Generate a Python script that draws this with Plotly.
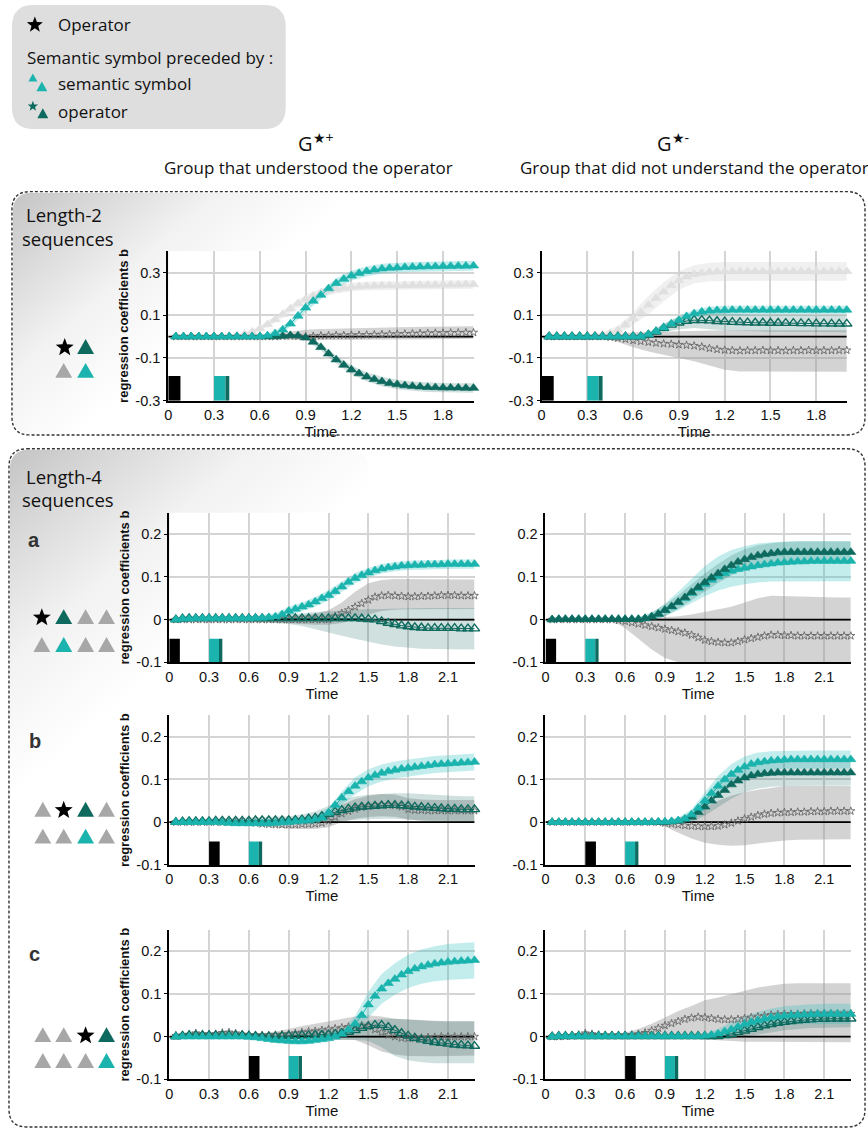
import math
import base64
import plotly.graph_objects as go

W, H = 868, 1138

# ---------------- data ----------------
T2 = [0.05, 0.1, 0.15, 0.2, 0.25, 0.3, 0.35, 0.4, 0.45, 0.5,
      0.55, 0.6, 0.65, 0.7, 0.75, 0.8, 0.85, 0.9, 0.95, 1.0,
      1.05, 1.1, 1.15, 1.2, 1.25, 1.3, 1.35, 1.4, 1.45, 1.5,
      1.55, 1.6, 1.65, 1.7, 1.75, 1.8, 1.85, 1.9, 1.95, 2.0]
T4 = T2 + [2.05, 2.1, 2.15, 2.2, 2.25, 2.3]
BT2 = [0.1, 0.2, 0.3, 0.4, 0.5, 0.6, 0.7, 0.8, 0.9, 1.0,
       1.1, 1.2, 1.3, 1.4, 1.5, 1.6, 1.7, 1.8, 1.9, 2.0]
BT4 = BT2 + [2.1, 2.2, 2.3]

TIME_TICKS = [0, 0.3, 0.6, 0.9, 1.2, 1.5, 1.8, 2.1]
TIME_LABELS = ["0", "0.3", "0.6", "0.9", "1.2", "1.5", "1.8", "2.1"]
L2_YTICKS = [-0.3, -0.1, 0.1, 0.3]
L2_YLABELS = ["-0.3", "-0.1", "0.1", "0.3"]
L4_YTICKS = [-0.1, 0, 0.1, 0.2]
L4_YLABELS = ["-0.1", "0", "0.1", "0.2"]
BAR_ONSETS = [0.0, 0.0, 0.0, 0.0, 0.3, 0.3, 0.6, 0.6]

# ---- Length-2, G*+ ----
L2L_GRAY = [0, 0, 0, 0, 0, 0, 0, 0.002, 0.005, 0.012,
            0.022, 0.037, 0.057, 0.08, 0.105, 0.13, 0.155, 0.175, 0.192, 0.205,
            0.215, 0.222, 0.228, 0.232, 0.235, 0.237, 0.238, 0.239, 0.24, 0.24,
            0.241, 0.241, 0.242, 0.242, 0.242, 0.243, 0.243, 0.243, 0.244, 0.244]
L2L_GRAY_LO = [-0.004, -0.004, -0.004, -0.004, 0.004, 0.025, 0.065, 0.112, 0.155, 0.185,
               0.202, 0.212, 0.217, 0.219, 0.22, 0.221, 0.222, 0.223, 0.223, 0.224]
L2L_GRAY_HI = [0.004, 0.004, 0.004, 0.006, 0.02, 0.05, 0.095, 0.148, 0.195, 0.225,
               0.242, 0.252, 0.257, 0.259, 0.26, 0.261, 0.262, 0.263, 0.263, 0.264]
L2L_STAR = [0, 0, 0, 0, 0, 0, 0, 0, 0, 0,
            0, 0, 0, 0.0, 0.002, 0.003, 0.002, 0.0, 0.002, 0.004,
            0.005, 0.006, 0.006, 0.007, 0.007, 0.008, 0.009, 0.01, 0.011, 0.012,
            0.013, 0.014, 0.015, 0.016, 0.017, 0.017, 0.018, 0.018, 0.019, 0.019]
L2L_STAR_LO = [-0.003, -0.003, -0.003, -0.003, -0.003, -0.005, -0.012, -0.015, -0.017, -0.018,
               -0.018, -0.017, -0.016, -0.015, -0.014, -0.013, -0.012, -0.011, -0.01, -0.01]
L2L_STAR_HI = [0.003, 0.003, 0.003, 0.003, 0.003, 0.005, 0.015, 0.025, 0.032, 0.036,
               0.038, 0.04, 0.041, 0.043, 0.044, 0.045, 0.046, 0.047, 0.048, 0.048]
L2L_DARK = [0, 0, 0, 0, 0, 0, 0, 0, 0, 0,
            0, 0, 0, 0, 0.003, 0.006, 0.004, -0.005, -0.025, -0.05,
            -0.08, -0.108, -0.133, -0.155, -0.173, -0.188, -0.2, -0.21, -0.218, -0.224,
            -0.229, -0.232, -0.235, -0.237, -0.238, -0.239, -0.24, -0.24, -0.241, -0.241]
L2L_DARK_LO = [-0.004, -0.004, -0.004, -0.004, -0.004, -0.004, -0.005, -0.003, -0.015, -0.065,
               -0.126, -0.175, -0.209, -0.232, -0.246, -0.254, -0.259, -0.261, -0.262, -0.263]
L2L_DARK_HI = [0.004, 0.004, 0.004, 0.004, 0.004, 0.004, 0.005, 0.015, 0.005, -0.035,
               -0.09, -0.135, -0.167, -0.188, -0.202, -0.21, -0.215, -0.217, -0.218, -0.219]
L2L_TEAL = [0, 0, 0, 0, 0, 0, 0, 0, 0, 0,
            0, 0.001, 0.005, 0.015, 0.032, 0.06, 0.097, 0.135, 0.167, 0.195,
            0.225, 0.25, 0.27, 0.285, 0.297, 0.306, 0.313, 0.318, 0.321, 0.323,
            0.325, 0.326, 0.327, 0.328, 0.329, 0.33, 0.33, 0.331, 0.331, 0.332]
L2L_TEAL_LO = [-0.005, -0.005, -0.005, -0.005, -0.005, -0.006, 0.003, 0.045, 0.115, 0.175,
               0.228, 0.262, 0.283, 0.295, 0.3, 0.303, 0.305, 0.307, 0.308, 0.309]
L2L_TEAL_HI = [0.005, 0.005, 0.005, 0.005, 0.005, 0.008, 0.027, 0.075, 0.155, 0.215,
               0.272, 0.308, 0.329, 0.341, 0.346, 0.349, 0.351, 0.353, 0.354, 0.355]

# ---- Length-2, G*- ----
L2R_GRAY = [0, 0, 0, 0, 0, 0, 0.003, 0.008, 0.017, 0.03,
            0.055, 0.085, 0.115, 0.148, 0.18, 0.21, 0.24, 0.263, 0.28, 0.292,
            0.298, 0.302, 0.304, 0.305, 0.306, 0.306, 0.306, 0.306, 0.306, 0.306,
            0.306, 0.306, 0.306, 0.306, 0.306, 0.306, 0.306, 0.306, 0.306, 0.306]
L2R_GRAY_LO = [-0.004, -0.004, -0.005, -0.004, 0.012, 0.055, 0.105, 0.165, 0.22, 0.25,
               0.258, 0.261, 0.262, 0.262, 0.262, 0.262, 0.262, 0.262, 0.262, 0.262]
L2R_GRAY_HI = [0.004, 0.004, 0.006, 0.02, 0.048, 0.115, 0.19, 0.255, 0.306, 0.334,
               0.346, 0.349, 0.35, 0.35, 0.35, 0.35, 0.35, 0.35, 0.35, 0.35]
L2R_STAR = [0, 0, 0, 0, 0, 0, 0, 0, -0.003, -0.007,
            -0.012, -0.018, -0.022, -0.026, -0.03, -0.033, -0.035, -0.038, -0.04, -0.043,
            -0.048, -0.055, -0.06, -0.063, -0.065, -0.066, -0.065, -0.065, -0.064, -0.065,
            -0.065, -0.066, -0.065, -0.065, -0.064, -0.065, -0.065, -0.065, -0.064, -0.064]
L2R_STAR_LO = [-0.003, -0.003, -0.003, -0.006, -0.025, -0.05, -0.07, -0.085, -0.1, -0.115,
               -0.135, -0.155, -0.163, -0.165, -0.165, -0.165, -0.165, -0.165, -0.165, -0.165]
L2R_STAR_HI = [0.003, 0.003, 0.003, 0.006, 0.012, 0.02, 0.022, 0.024, 0.025, 0.027,
               0.028, 0.03, 0.03, 0.03, 0.03, 0.03, 0.03, 0.03, 0.03, 0.03]
L2R_DARK = [0, 0, 0, 0, 0, 0, 0, 0, 0, 0,
            0, 0, 0, 0.008, 0.022, 0.04, 0.055, 0.065, 0.073, 0.077,
            0.077, 0.075, 0.072, 0.07, 0.068, 0.067, 0.066, 0.065, 0.065, 0.064,
            0.064, 0.063, 0.063, 0.062, 0.062, 0.061, 0.061, 0.06, 0.06, 0.06]
L2R_DARK_LO = [-0.004, -0.004, -0.004, -0.004, -0.004, -0.006, -0.005, 0.02, 0.035, 0.04,
               0.035, 0.03, 0.027, 0.025, 0.023, 0.022, 0.021, 0.02, 0.02, 0.02]
L2R_DARK_HI = [0.004, 0.004, 0.004, 0.004, 0.004, 0.006, 0.02, 0.06, 0.095, 0.11,
               0.112, 0.108, 0.105, 0.103, 0.102, 0.101, 0.1, 0.1, 0.1, 0.1]
L2R_TEAL = [0, 0, 0, 0, 0, 0, 0, 0, 0, 0,
            0, 0, 0, 0.01, 0.025, 0.042, 0.06, 0.077, 0.095, 0.108,
            0.116, 0.121, 0.123, 0.124, 0.125, 0.125, 0.125, 0.125, 0.125, 0.125,
            0.125, 0.125, 0.125, 0.125, 0.125, 0.125, 0.125, 0.125, 0.125, 0.125]
L2R_TEAL_LO = [-0.004, -0.004, -0.004, -0.004, -0.004, -0.005, 0.0, 0.027, 0.06, 0.09,
               0.102, 0.105, 0.105, 0.105, 0.105, 0.105, 0.105, 0.105, 0.105, 0.105]
L2R_TEAL_HI = [0.004, 0.004, 0.004, 0.004, 0.004, 0.005, 0.02, 0.057, 0.094, 0.126,
               0.14, 0.145, 0.145, 0.145, 0.145, 0.145, 0.145, 0.145, 0.145, 0.145]

# ---- Length-4 a, G*+ ----
A_L_STAR = [0, 0, 0, 0, 0, 0, 0, 0, 0, 0,
            0, 0, 0, 0, 0, 0, 0, 0, 0, 0,
            0, 0, 0, 0, 0.008, 0.015, 0.022, 0.03, 0.038, 0.046,
            0.053, 0.056, 0.057, 0.056, 0.055, 0.054, 0.054, 0.055, 0.055, 0.056,
            0.057, 0.057, 0.057, 0.056, 0.056, 0.056]
A_L_STAR_LO = [-0.002, -0.002, -0.002, -0.002, -0.002, -0.003, -0.004, -0.006, -0.008, -0.01,
               -0.012, -0.012, -0.008, 0.0, 0.012, 0.02, 0.023, 0.024, 0.025, 0.025,
               0.025, 0.025, 0.025]
A_L_STAR_HI = [0.002, 0.002, 0.002, 0.002, 0.002, 0.003, 0.004, 0.006, 0.008, 0.01,
               0.014, 0.022, 0.04, 0.065, 0.085, 0.093, 0.095, 0.095, 0.095, 0.095,
               0.095, 0.094, 0.094]
A_L_DARK = [0.0, 0.002, 0.003, 0.003, 0.003, 0.003, 0.003, 0.003, 0.003, 0.003,
            0.003, 0.003, 0.003, 0.003, 0.003, 0.003, 0.003, 0.003, 0.003, 0.003,
            0.003, 0.003, 0.003, 0.003, 0.003, 0.003, 0.003, 0.003, 0.002, 0.001,
            0.0, -0.004, -0.008, -0.011, -0.014, -0.016, -0.018, -0.019, -0.02, -0.02,
            -0.02, -0.02, -0.02, -0.021, -0.021, -0.021]
A_L_DARK_LO = [-0.004, -0.004, -0.004, -0.004, -0.004, -0.005, -0.006, -0.008, -0.01, -0.015,
               -0.022, -0.03, -0.038, -0.045, -0.052, -0.058, -0.063, -0.066, -0.068, -0.069,
               -0.07, -0.07, -0.07]
A_L_DARK_HI = [0.008, 0.008, 0.008, 0.008, 0.008, 0.008, 0.009, 0.01, 0.012, 0.015,
               0.018, 0.02, 0.022, 0.024, 0.025, 0.025, 0.026, 0.026, 0.027, 0.027,
               0.027, 0.027, 0.027]
A_L_TEAL = [0.0, 0.002, 0.002, 0.003, 0.003, 0.003, 0.003, 0.003, 0.003, 0.003,
            0.003, 0.003, 0.004, 0.004, 0.005, 0.007, 0.012, 0.02, 0.025, 0.03,
            0.035, 0.042, 0.05, 0.057, 0.066, 0.077, 0.088, 0.097, 0.104, 0.11,
            0.115, 0.119, 0.122, 0.124, 0.126, 0.127, 0.128, 0.128, 0.129, 0.129,
            0.129, 0.13, 0.13, 0.13, 0.13, 0.13]
A_L_TEAL_LO = [-0.004, -0.004, -0.004, -0.004, -0.004, -0.004, -0.004, -0.002, 0.01, 0.02,
               0.031, 0.045, 0.065, 0.085, 0.099, 0.108, 0.113, 0.116, 0.117, 0.118,
               0.119, 0.119, 0.119]
A_L_TEAL_HI = [0.008, 0.008, 0.008, 0.008, 0.008, 0.008, 0.01, 0.015, 0.03, 0.04,
               0.053, 0.069, 0.089, 0.109, 0.121, 0.13, 0.135, 0.138, 0.139, 0.14,
               0.141, 0.141, 0.141]

# ---- Length-4 a, G*- ----
A_R_STAR = [0, 0, 0, 0, 0, 0, 0, 0, 0, 0,
            -0.002, -0.004, -0.007, -0.01, -0.013, -0.016, -0.019, -0.022, -0.025, -0.028,
            -0.031, -0.036, -0.042, -0.048, -0.051, -0.053, -0.054, -0.054, -0.051, -0.047,
            -0.044, -0.041, -0.038, -0.036, -0.036, -0.037, -0.037, -0.038, -0.038, -0.038,
            -0.038, -0.038, -0.038, -0.038, -0.038, -0.038]
A_R_STAR_LO = [-0.002, -0.002, -0.002, -0.002, -0.002, -0.02, -0.045, -0.07, -0.09, -0.1,
               -0.115, -0.13, -0.13, -0.13, -0.13, -0.13, -0.13, -0.13, -0.13, -0.13,
               -0.13, -0.13, -0.13]
A_R_STAR_HI = [0.002, 0.002, 0.002, 0.002, 0.002, 0.0, 0.002, 0.004, 0.006, 0.008,
               0.012, 0.018, 0.025, 0.03, 0.04, 0.05, 0.056, 0.055, 0.054, 0.053,
               0.053, 0.052, 0.052]
A_R_TEAL = [0.0, 0.001, 0.001, 0.001, 0.001, 0.001, 0.001, 0.001, 0.001, 0.001,
            0.001, 0.001, 0.001, 0.001, 0.003, 0.007, 0.013, 0.022, 0.03, 0.04,
            0.05, 0.062, 0.073, 0.083, 0.093, 0.101, 0.108, 0.114, 0.118, 0.121,
            0.124, 0.127, 0.129, 0.131, 0.133, 0.134, 0.135, 0.136, 0.136, 0.137,
            0.137, 0.137, 0.137, 0.137, 0.137, 0.137]
A_R_TEAL_LO = [-0.003, -0.003, -0.003, -0.003, -0.003, -0.003, -0.004, -0.002, 0.008, 0.022,
               0.038, 0.055, 0.068, 0.077, 0.083, 0.087, 0.089, 0.09, 0.09, 0.09,
               0.09, 0.09, 0.09]
A_R_TEAL_HI = [0.003, 0.003, 0.003, 0.003, 0.003, 0.003, 0.005, 0.015, 0.038, 0.065,
               0.095, 0.125, 0.148, 0.163, 0.172, 0.178, 0.181, 0.183, 0.184, 0.184,
               0.184, 0.184, 0.184]
A_R_DARK = [0.0, 0.001, 0.001, 0.001, 0.001, 0.001, 0.001, 0.001, 0.001, 0.001,
            0.001, 0.001, 0.001, 0.001, 0.003, 0.007, 0.013, 0.022, 0.031, 0.041,
            0.052, 0.064, 0.076, 0.087, 0.098, 0.108, 0.118, 0.127, 0.135, 0.141,
            0.146, 0.15, 0.153, 0.155, 0.157, 0.158, 0.158, 0.158, 0.158, 0.158,
            0.158, 0.158, 0.158, 0.158, 0.158, 0.158]
A_R_DARK_LO = [-0.003, -0.003, -0.003, -0.003, -0.003, -0.003, -0.004, -0.003, 0.008, 0.025,
               0.045, 0.066, 0.086, 0.104, 0.117, 0.126, 0.131, 0.134, 0.135, 0.135,
               0.135, 0.135, 0.135]
A_R_DARK_HI = [0.003, 0.003, 0.003, 0.003, 0.003, 0.003, 0.005, 0.017, 0.036, 0.057,
               0.083, 0.108, 0.13, 0.15, 0.165, 0.174, 0.179, 0.182, 0.183, 0.183,
               0.183, 0.183, 0.183]

# ---- Length-4 b, G*+ ----
B_L_STAR = [0, 0, 0, 0, 0, 0, 0, 0, 0, 0,
            0, 0, -0.002, -0.004, -0.005, -0.006, -0.006, -0.006, -0.006, -0.005,
            -0.005, -0.004, -0.002, 0.003, 0.012, 0.02, 0.026, 0.031, 0.035, 0.037,
            0.039, 0.04, 0.04, 0.039, 0.036, 0.03, 0.028, 0.028, 0.027, 0.027,
            0.027, 0.027, 0.027, 0.027, 0.027, 0.027]
B_L_STAR_LO = [-0.002, -0.002, -0.002, -0.002, -0.002, -0.003, -0.008, -0.012, -0.015, -0.016,
               -0.016, -0.012, 0.0, 0.008, 0.012, 0.014, 0.013, 0.006, 0.004, 0.003,
               0.003, 0.003, 0.003]
B_L_STAR_HI = [0.002, 0.002, 0.002, 0.002, 0.002, 0.003, 0.002, 0.002, 0.004, 0.006,
               0.008, 0.018, 0.04, 0.054, 0.062, 0.066, 0.065, 0.056, 0.053, 0.052,
               0.052, 0.052, 0.052]
B_L_DARK = [0.0, 0.001, 0.002, 0.002, 0.002, 0.002, 0.003, 0.003, 0.003, 0.003,
            0.003, 0.003, 0.004, 0.004, 0.004, 0.004, 0.004, 0.004, 0.005, 0.006,
            0.008, 0.01, 0.014, 0.019, 0.024, 0.028, 0.031, 0.034, 0.036, 0.037,
            0.038, 0.039, 0.04, 0.04, 0.039, 0.038, 0.036, 0.035, 0.034, 0.033,
            0.032, 0.031, 0.031, 0.03, 0.03, 0.03]
B_L_DARK_LO = [-0.004, -0.003, -0.003, -0.003, -0.003, -0.004, -0.004, -0.005, -0.006, -0.006,
               -0.005, 0.0, 0.004, 0.006, 0.007, 0.008, 0.008, 0.006, 0.004, 0.002,
               0.0, -0.001, -0.002]
B_L_DARK_HI = [0.006, 0.007, 0.007, 0.008, 0.009, 0.01, 0.012, 0.013, 0.014, 0.018,
               0.025, 0.038, 0.052, 0.06, 0.064, 0.066, 0.068, 0.068, 0.066, 0.064,
               0.062, 0.061, 0.061]
B_L_TEAL = [0.0, 0.0, 0.0, 0.0, 0.0, 0.0, 0.0, -0.001, -0.002, -0.003,
            -0.003, -0.003, -0.003, -0.003, -0.003, -0.002, -0.001, 0.0, 0.002, 0.003,
            0.004, 0.006, 0.01, 0.022, 0.04, 0.057, 0.072, 0.085, 0.095, 0.104,
            0.11, 0.115, 0.119, 0.122, 0.125, 0.127, 0.129, 0.131, 0.133, 0.135,
            0.136, 0.137, 0.138, 0.139, 0.14, 0.141]
B_L_TEAL_LO = [-0.004, -0.004, -0.004, -0.005, -0.007, -0.007, -0.008, -0.008, -0.007, -0.006,
               -0.004, 0.01, 0.042, 0.065, 0.084, 0.095, 0.102, 0.107, 0.111, 0.115,
               0.117, 0.119, 0.121]
B_L_TEAL_HI = [0.004, 0.004, 0.004, 0.003, 0.001, 0.001, 0.002, 0.004, 0.007, 0.012,
               0.016, 0.034, 0.072, 0.105, 0.124, 0.135, 0.142, 0.147, 0.151, 0.155,
               0.157, 0.159, 0.161]

# ---- Length-4 b, G*- ----
B_R_STAR = [0, 0, 0, 0, 0, 0, 0, 0, 0, 0,
            0, 0, 0, 0, 0, 0, 0, -0.002, -0.004, -0.006,
            -0.008, -0.009, -0.01, -0.01, -0.01, -0.009, -0.006, -0.002, 0.003, 0.008,
            0.012, 0.016, 0.019, 0.021, 0.022, 0.023, 0.023, 0.024, 0.024, 0.025,
            0.025, 0.025, 0.026, 0.026, 0.026, 0.026]
B_R_STAR_LO = [-0.002, -0.002, -0.002, -0.002, -0.002, -0.002, -0.002, -0.002, -0.01, -0.025,
               -0.038, -0.048, -0.053, -0.055, -0.054, -0.05, -0.046, -0.043, -0.041, -0.04,
               -0.04, -0.04, -0.04]
B_R_STAR_HI = [0.002, 0.002, 0.002, 0.002, 0.002, 0.002, 0.002, 0.002, 0.004, 0.01,
               0.02, 0.035, 0.05, 0.062, 0.07, 0.076, 0.081, 0.085, 0.085, 0.085,
               0.085, 0.085, 0.085]
B_R_DARK = [0, 0, 0, 0, 0, 0, 0, 0, 0, 0,
            0, 0, 0, 0, 0, 0, 0, 0, 0.001, 0.003,
            0.006, 0.012, 0.023, 0.036, 0.05, 0.063, 0.075, 0.088, 0.097, 0.104,
            0.109, 0.112, 0.114, 0.115, 0.116, 0.116, 0.116, 0.116, 0.116, 0.116,
            0.116, 0.116, 0.116, 0.116, 0.116, 0.116]
B_R_DARK_LO = [-0.003, -0.003, -0.003, -0.003, -0.003, -0.003, -0.003, -0.003, -0.003, -0.004,
               0.0, 0.015, 0.035, 0.055, 0.07, 0.079, 0.083, 0.085, 0.086, 0.086,
               0.086, 0.086, 0.086]
B_R_DARK_HI = [0.003, 0.003, 0.003, 0.003, 0.003, 0.003, 0.003, 0.003, 0.003, 0.01,
               0.024, 0.057, 0.091, 0.115, 0.132, 0.141, 0.145, 0.146, 0.146, 0.146,
               0.146, 0.146, 0.146]
B_R_TEAL = [0, 0, 0, 0, 0, 0, 0, 0, 0, 0,
            0, 0, 0, 0, 0, 0, 0.001, 0.001, 0.002, 0.004,
            0.008, 0.018, 0.033, 0.05, 0.068, 0.085, 0.1, 0.112, 0.122, 0.13,
            0.136, 0.14, 0.142, 0.144, 0.145, 0.146, 0.147, 0.147, 0.147, 0.147,
            0.147, 0.147, 0.147, 0.147, 0.147, 0.147]
B_R_TEAL_LO = [-0.003, -0.003, -0.003, -0.003, -0.003, -0.003, -0.003, -0.003, -0.003, -0.002,
               0.006, 0.03, 0.062, 0.088, 0.106, 0.117, 0.122, 0.125, 0.126, 0.126,
               0.126, 0.126, 0.126]
B_R_TEAL_HI = [0.003, 0.003, 0.003, 0.003, 0.003, 0.003, 0.003, 0.003, 0.005, 0.01,
               0.03, 0.07, 0.108, 0.136, 0.154, 0.163, 0.166, 0.167, 0.168, 0.168,
               0.168, 0.168, 0.168]

# ---- Length-4 c, G*+ ----
C_L_STAR = [0.002, 0.003, 0.005, 0.008, 0.006, 0.005, 0.006, 0.009, 0.01, 0.008,
            0.005, 0.004, 0.003, 0.003, 0.003, 0.004, 0.005, 0.006, 0.008, 0.01,
            0.012, 0.013, 0.015, 0.017, 0.019, 0.021, 0.023, 0.025, 0.026, 0.024,
            0.017, 0.01, 0.004, 0.0, -0.003, -0.004, -0.004, -0.003, -0.002, -0.001,
            0.0, 0.0, 0.0, 0.0, 0.0, 0.0]
C_L_STAR_LO = [-0.002, -0.002, -0.002, -0.002, -0.002, -0.002, -0.002, -0.003, -0.005, -0.006,
               -0.007, -0.007, -0.007, -0.008, -0.02, -0.035, -0.042, -0.045, -0.046, -0.046,
               -0.045, -0.044, -0.044]
C_L_STAR_HI = [0.006, 0.012, 0.01, 0.014, 0.012, 0.008, 0.008, 0.012, 0.018, 0.025,
               0.03, 0.036, 0.042, 0.047, 0.05, 0.047, 0.042, 0.04, 0.038, 0.037,
               0.036, 0.036, 0.036]
C_L_DARK = [0.0, 0.002, 0.003, 0.003, 0.003, 0.003, 0.003, 0.003, 0.003, 0.003,
            0.003, 0.002, 0.001, 0.0, 0.0, 0.0, 0.001, 0.002, 0.002, 0.003,
            0.003, 0.004, 0.004, 0.005, 0.006, 0.008, 0.011, 0.015, 0.02, 0.024,
            0.027, 0.027, 0.022, 0.015, 0.008, 0.002, -0.003, -0.007, -0.01, -0.013,
            -0.015, -0.017, -0.019, -0.02, -0.021, -0.022]
C_L_DARK_LO = [-0.003, -0.003, -0.003, -0.003, -0.003, -0.004, -0.005, -0.006, -0.007, -0.008,
               -0.008, -0.008, -0.008, -0.008, -0.01, -0.025, -0.045, -0.055, -0.06, -0.062,
               -0.062, -0.062, -0.062]
C_L_DARK_HI = [0.007, 0.008, 0.008, 0.008, 0.008, 0.008, 0.008, 0.01, 0.012, 0.014,
               0.016, 0.018, 0.022, 0.03, 0.038, 0.042, 0.042, 0.04, 0.038, 0.036,
               0.036, 0.036, 0.036]
C_L_TEAL = [0, 0, 0, 0, 0, 0, 0, 0, 0, 0,
            0, -0.001, -0.002, -0.004, -0.006, -0.008, -0.009, -0.01, -0.011, -0.011,
            -0.01, -0.008, -0.006, -0.004, 0.0, 0.006, 0.016, 0.03, 0.05, 0.075,
            0.095, 0.112, 0.125, 0.135, 0.145, 0.153, 0.159, 0.164, 0.168, 0.171,
            0.173, 0.175, 0.176, 0.177, 0.178, 0.179]
C_L_TEAL_LO = [-0.004, -0.004, -0.004, -0.004, -0.004, -0.006, -0.01, -0.015, -0.018, -0.019,
               -0.016, -0.012, -0.004, 0.012, 0.045, 0.077, 0.098, 0.114, 0.124, 0.13,
               0.133, 0.135, 0.136]
C_L_TEAL_HI = [0.004, 0.004, 0.004, 0.004, 0.004, 0.004, 0.002, -0.001, -0.002, -0.003,
               0.0, 0.004, 0.016, 0.048, 0.105, 0.147, 0.172, 0.192, 0.204, 0.212,
               0.217, 0.219, 0.221]

# ---- Length-4 c, G*- ----
C_R_STAR = [0.0, 0.0, 0.001, 0.002, 0.004, 0.008, 0.006, 0.004, 0.003, 0.003,
            0.003, 0.003, 0.004, 0.006, 0.009, 0.014, 0.02, 0.026, 0.031, 0.036,
            0.041, 0.044, 0.046, 0.045, 0.043, 0.041, 0.04, 0.04, 0.041, 0.043,
            0.045, 0.047, 0.049, 0.051, 0.052, 0.053, 0.053, 0.053, 0.054, 0.054,
            0.054, 0.054, 0.054, 0.054, 0.054, 0.054]
C_R_STAR_LO = [-0.003, -0.003, -0.003, -0.003, -0.003, -0.004, -0.005, -0.005, -0.005, -0.005,
               -0.005, -0.006, -0.008, -0.01, -0.012, -0.013, -0.013, -0.013, -0.013, -0.013,
               -0.013, -0.013, -0.013]
C_R_STAR_HI = [0.003, 0.004, 0.012, 0.008, 0.007, 0.01, 0.018, 0.03, 0.045, 0.06,
               0.072, 0.085, 0.092, 0.1, 0.108, 0.115, 0.12, 0.124, 0.125, 0.125,
               0.125, 0.125, 0.125]
C_R_DARK = [0.0, 0.001, 0.001, 0.001, 0.001, 0.001, 0.001, 0.001, 0.001, 0.001,
            0.001, 0.001, 0.001, 0.001, 0.001, 0.001, 0.001, 0.001, 0.001, 0.001,
            0.001, 0.001, 0.001, 0.001, 0.001, 0.001, 0.003, 0.006, 0.01, 0.014,
            0.018, 0.022, 0.026, 0.029, 0.032, 0.034, 0.036, 0.038, 0.039, 0.04,
            0.041, 0.041, 0.042, 0.042, 0.042, 0.042]
C_R_DARK_LO = [-0.003, -0.003, -0.003, -0.003, -0.003, -0.003, -0.003, -0.003, -0.003, -0.003,
               -0.003, -0.003, -0.004, -0.005, 0.0, 0.005, 0.01, 0.015, 0.018, 0.02,
               0.021, 0.022, 0.022]
C_R_DARK_HI = [0.004, 0.004, 0.004, 0.004, 0.004, 0.004, 0.004, 0.004, 0.004, 0.004,
               0.004, 0.004, 0.008, 0.017, 0.028, 0.04, 0.048, 0.055, 0.058, 0.06,
               0.061, 0.062, 0.062]
C_R_TEAL = [0.0, 0.001, 0.001, 0.001, 0.001, 0.001, 0.001, 0.001, 0.001, 0.001,
            0.001, 0.001, 0.001, 0.001, 0.001, 0.001, 0.001, 0.001, 0.001, 0.001,
            0.001, 0.001, 0.001, 0.002, 0.004, 0.007, 0.012, 0.017, 0.023, 0.029,
            0.034, 0.038, 0.042, 0.045, 0.047, 0.049, 0.05, 0.051, 0.052, 0.052,
            0.053, 0.053, 0.053, 0.053, 0.053, 0.053]
C_R_TEAL_LO = [-0.003, -0.003, -0.003, -0.003, -0.003, -0.003, -0.003, -0.003, -0.003, -0.003,
               -0.003, -0.003, -0.005, 0.0, 0.01, 0.018, 0.024, 0.027, 0.029, 0.03,
               0.03, 0.03, 0.03]
C_R_TEAL_HI = [0.004, 0.004, 0.004, 0.004, 0.004, 0.004, 0.004, 0.004, 0.004, 0.004,
               0.004, 0.006, 0.018, 0.034, 0.048, 0.058, 0.066, 0.071, 0.074, 0.076,
               0.077, 0.077, 0.077]

# ---------------- styles ----------------
TEAL = "#1ab3ad"
DARK = "#0e6a5e"
LGRAY = "#e0e0e0"
STARC = "#666666"
ICON_GRAY = "#a7a7a7"
STY = {
    "gray": dict(color=LGRAY, band="rgba(205,205,205,0.30)"),
    "star": dict(color=STARC, band="rgba(150,150,150,0.42)"),
    "dark": dict(color=DARK, band="rgba(15,100,90,0.20)"),
    "teal": dict(color=TEAL, band="rgba(40,190,190,0.28)"),
}
TICKFONT = dict(family="Liberation Sans, Arial", size=14.5, color="#111111")
HFONT = "Open Sans"


def px(x):
    return x / W


def py(y):
    return 1 - y / H


PANELS = [
    dict(xpx=(165, 471.7), ypx=(253, 403.5), xr=(0, 2.0), yr=(-0.3, 0.4), bar_top=-0.185,
         T=T2, BT=BT2, nt=7, yt=L2_YTICKS, yl=L2_YLABELS, ytitle=True,
         series=[("gray", L2L_GRAY, L2L_GRAY_LO, L2L_GRAY_HI, False),
                 ("star", L2L_STAR, L2L_STAR_LO, L2L_STAR_HI, False),
                 ("dark", L2L_DARK, L2L_DARK_LO, L2L_DARK_HI, False),
                 ("teal", L2L_TEAL, L2L_TEAL_LO, L2L_TEAL_HI, False)]),
    dict(xpx=(540, 846.7), ypx=(253, 403.5), xr=(0, 2.0), yr=(-0.3, 0.4), bar_top=-0.185,
         T=T2, BT=BT2, nt=7, yt=L2_YTICKS, yl=L2_YLABELS, ytitle=False,
         series=[("gray", L2R_GRAY, L2R_GRAY_LO, L2R_GRAY_HI, False),
                 ("star", L2R_STAR, L2R_STAR_LO, L2R_STAR_HI, False),
                 ("dark", L2R_DARK, L2R_DARK_LO, L2R_DARK_HI, True),
                 ("teal", L2R_TEAL, L2R_TEAL_LO, L2R_TEAL_HI, False)]),
    dict(xpx=(166, 472.7), ypx=(516.5, 667), xr=(0, 2.3), yr=(-0.1, 0.25), bar_top=-0.045,
         T=T4, BT=BT4, nt=8, yt=L4_YTICKS, yl=L4_YLABELS, ytitle=True,
         series=[("star", A_L_STAR, A_L_STAR_LO, A_L_STAR_HI, False),
                 ("dark", A_L_DARK, A_L_DARK_LO, A_L_DARK_HI, True),
                 ("teal", A_L_TEAL, A_L_TEAL_LO, A_L_TEAL_HI, False)]),
    dict(xpx=(544, 850.7), ypx=(516.5, 667), xr=(0, 2.3), yr=(-0.1, 0.25), bar_top=-0.045,
         T=T4, BT=BT4, nt=8, yt=L4_YTICKS, yl=L4_YLABELS, ytitle=False,
         series=[("star", A_R_STAR, A_R_STAR_LO, A_R_STAR_HI, False),
                 ("teal", A_R_TEAL, A_R_TEAL_LO, A_R_TEAL_HI, False),
                 ("dark", A_R_DARK, A_R_DARK_LO, A_R_DARK_HI, False)]),
    dict(xpx=(166, 472.7), ypx=(720.5, 871), xr=(0, 2.3), yr=(-0.1, 0.25), bar_top=-0.045,
         T=T4, BT=BT4, nt=8, yt=L4_YTICKS, yl=L4_YLABELS, ytitle=True,
         series=[("star", B_L_STAR, B_L_STAR_LO, B_L_STAR_HI, False),
                 ("dark", B_L_DARK, B_L_DARK_LO, B_L_DARK_HI, True),
                 ("teal", B_L_TEAL, B_L_TEAL_LO, B_L_TEAL_HI, False)]),
    dict(xpx=(544, 850.7), ypx=(720.5, 871), xr=(0, 2.3), yr=(-0.1, 0.25), bar_top=-0.045,
         T=T4, BT=BT4, nt=8, yt=L4_YTICKS, yl=L4_YLABELS, ytitle=False,
         series=[("star", B_R_STAR, B_R_STAR_LO, B_R_STAR_HI, False),
                 ("dark", B_R_DARK, B_R_DARK_LO, B_R_DARK_HI, False),
                 ("teal", B_R_TEAL, B_R_TEAL_LO, B_R_TEAL_HI, False)]),
    dict(xpx=(166, 472.7), ypx=(936.5, 1087), xr=(0, 2.3), yr=(-0.1, 0.25), bar_top=-0.045,
         T=T4, BT=BT4, nt=8, yt=L4_YTICKS, yl=L4_YLABELS, ytitle=True,
         series=[("star", C_L_STAR, C_L_STAR_LO, C_L_STAR_HI, False),
                 ("dark", C_L_DARK, C_L_DARK_LO, C_L_DARK_HI, True),
                 ("teal", C_L_TEAL, C_L_TEAL_LO, C_L_TEAL_HI, False)]),
    dict(xpx=(544, 850.7), ypx=(936.5, 1087), xr=(0, 2.3), yr=(-0.1, 0.25), bar_top=-0.045,
         T=T4, BT=BT4, nt=8, yt=L4_YTICKS, yl=L4_YLABELS, ytitle=False,
         series=[("star", C_R_STAR, C_R_STAR_LO, C_R_STAR_HI, False),
                 ("dark", C_R_DARK, C_R_DARK_LO, C_R_DARK_HI, True),
                 ("teal", C_R_TEAL, C_R_TEAL_LO, C_R_TEAL_HI, False)]),
]

for p in PANELS:
    for kind, m, lo, hi, _ in p["series"]:
        assert len(m) == len(p["T"]), (kind, len(m))
        assert len(lo) == len(p["BT"]) and len(hi) == len(p["BT"]), (kind, len(lo), len(hi))

fig = go.Figure()
shapes = []
layout_axes = {}

for i, p in enumerate(PANELS, start=1):
    xa = "x" if i == 1 else f"x{i}"
    ya = "y" if i == 1 else f"y{i}"
    xkey = "xaxis" if i == 1 else f"xaxis{i}"
    ykey = "yaxis" if i == 1 else f"yaxis{i}"
    # white plot area (covers the box gradient)
    shapes.append(dict(type="rect", xref="paper", yref="paper",
                       x0=(p["xpx"][0] + 1) / W, x1=(p["xpx"][1] + 2) / W,
                       y0=1 - p["ypx"][1] / H, y1=1 - p["ypx"][0] / H,
                       fillcolor="white", line=dict(width=0), layer="below"))
    # bands
    for kind, m, lo, hi, _ in p["series"]:
        fig.add_trace(go.Scatter(
            x=list(p["BT"]) + list(p["BT"])[::-1], y=list(hi) + list(lo)[::-1],
            fill="toself", fillcolor=STY[kind]["band"], line=dict(width=0),
            mode="lines", hoverinfo="skip", showlegend=False, xaxis=xa, yaxis=ya))
    # zero line
    fig.add_trace(go.Scatter(x=[p["xr"][0], p["xr"][1]], y=[0, 0], mode="lines",
                             line=dict(color="black", width=1.8), hoverinfo="skip",
                             showlegend=False, xaxis=xa, yaxis=ya))
    # markers
    for kind, m, lo, hi, is_open in p["series"]:
        c = STY[kind]["color"]
        if kind == "star":
            fig.add_trace(go.Scatter(
                x=p["T"], y=m, mode="markers", cliponaxis=False,
                marker=dict(symbol="star-open", size=6, color=c, line=dict(color=c, width=0.9)),
                showlegend=False, xaxis=xa, yaxis=ya))
        else:
            fig.add_trace(go.Scatter(
                x=p["T"], y=m, mode="lines+markers", cliponaxis=False,
                line=dict(color=c, width=1),
                marker=dict(symbol="triangle-up-open" if is_open else "triangle-up",
                            size=9, color=c, line=dict(color=c, width=1.4 if is_open else 0.6)),
                showlegend=False, xaxis=xa, yaxis=ya))
    # axes
    layout_axes[xkey] = dict(
        domain=[px(p["xpx"][0]), px(p["xpx"][1])], range=list(p["xr"]), anchor=ya,
        showline=True, linecolor="black", linewidth=2, showgrid=True, gridcolor="#d4d4d4",
        gridwidth=1.5, zeroline=False, ticks="", tickvals=TIME_TICKS[:p["nt"]],
        ticktext=TIME_LABELS[:p["nt"]], tickfont=TICKFONT, fixedrange=True,
        title=dict(text="Time", font=dict(family="Liberation Sans, Arial", size=15, color="#111"), standoff=0))
    ydict = dict(
        domain=[py(p["ypx"][1]), py(p["ypx"][0])], range=list(p["yr"]), anchor=xa,
        showline=True, linecolor="black", linewidth=2, showgrid=True, gridcolor="#d4d4d4",
        gridwidth=1.5, zeroline=False, ticks="outside", ticklen=3, tickcolor="black",
        tickvals=p["yt"], ticktext=p["yl"], tickfont=TICKFONT, fixedrange=True)
    if p["ytitle"]:
        ydict["title"] = dict(text="<b>regression coefficients b</b>",
                              font=dict(family="Liberation Sans, Arial", size=13, color="#111"), standoff=4)
    layout_axes[ykey] = ydict
    # stimulus bars
    s = BAR_ONSETS[i - 1]
    y0 = p["yr"][0]
    shapes.append(dict(type="rect", xref=xa, yref=ya, x0=s, x1=s + 0.08, y0=y0, y1=p["bar_top"],
                       fillcolor="black", line=dict(width=0), layer="above"))
    shapes.append(dict(type="rect", xref=xa, yref=ya, x0=s + 0.3, x1=s + 0.375, y0=y0, y1=p["bar_top"],
                       fillcolor=TEAL, line=dict(width=0), layer="above"))
    shapes.append(dict(type="rect", xref=xa, yref=ya, x0=s + 0.375, x1=s + 0.4, y0=y0, y1=p["bar_top"],
                       fillcolor=DARK, line=dict(width=0), layer="above"))


# ---------------- decorations ----------------
def P(x, y):
    return f"{px(x):.5f},{py(y):.5f}"


def rr_path(x0, y0, x1, y1, r):
    return (f"M {P(x0 + r, y0)} L {P(x1 - r, y0)} Q {P(x1, y0)} {P(x1, y0 + r)} "
            f"L {P(x1, y1 - r)} Q {P(x1, y1)} {P(x1 - r, y1)} L {P(x0 + r, y1)} "
            f"Q {P(x0, y1)} {P(x0, y1 - r)} L {P(x0, y0 + r)} Q {P(x0, y0)} {P(x0 + r, y0)} Z")


def tri_path(cx, cy, w, h):
    return f"M {P(cx - w / 2, cy + h / 2)} L {P(cx + w / 2, cy + h / 2)} L {P(cx, cy - h / 2)} Z"


def star_path(cx, cy, R, ratio=0.42):
    pts = []
    for k in range(10):
        ang = -math.pi / 2 + k * math.pi / 5
        rad = R if k % 2 == 0 else R * ratio
        pts.append(P(cx + rad * math.cos(ang), cy + rad * math.sin(ang)))
    return "M " + " L ".join(pts) + " Z"


def icon(kind, cx, cy, scale=1.0):
    if kind == "star":
        return dict(type="path", path=star_path(cx, cy + 1, 9.5 * scale), xref="paper", yref="paper",
                    fillcolor="black", line=dict(width=0), layer="above")
    col = {"g": ICON_GRAY, "t": TEAL, "d": DARK}[kind]
    return dict(type="path", path=tri_path(cx, cy, 17 * scale, 15 * scale), xref="paper", yref="paper",
                fillcolor=col, line=dict(width=0), layer="above")


# legend box
shapes.append(dict(type="path", path=rr_path(8, 5, 283, 130, 22), xref="paper", yref="paper",
                   fillcolor="#dedede", line=dict(width=0), layer="below"))
# dashed boxes
for (bx0, by0, bx1, by1) in [(8, 193, 865, 438), (5, 452, 865, 1135)]:
    shapes.append(dict(type="path", path=rr_path(bx0, by0, bx1, by1, 18), xref="paper", yref="paper",
                       line=dict(color="#333333", width=1.4, dash="3px,2px"), layer="above"))

# legend icons
shapes.append(dict(type="path", path=star_path(31, 25, 8.5), xref="paper", yref="paper",
                   fillcolor="black", line=dict(width=0)))
shapes.append(dict(type="path", path=tri_path(29, 78, 9, 8), xref="paper", yref="paper",
                   fillcolor=TEAL, line=dict(width=0)))
shapes.append(dict(type="path", path=tri_path(38, 87, 11, 10), xref="paper", yref="paper",
                   fillcolor=TEAL, line=dict(width=0)))
shapes.append(dict(type="path", path=star_path(29, 107, 5.5), xref="paper", yref="paper",
                   fillcolor=DARK, line=dict(width=0)))
shapes.append(dict(type="path", path=tri_path(39, 114, 11, 10), xref="paper", yref="paper",
                   fillcolor=DARK, line=dict(width=0)))

# sequence icons
ICON_ROWS = [
    (349, [(61, "star"), (82, "d")]),
    (373, [(60, "g"), (82, "t")]),
    (621, [(38, "star"), (60, "d"), (82, "g"), (103, "g")]),
    (649, [(38, "g"), (60, "t"), (82, "g"), (103, "g")]),
    (815, [(39, "g"), (60, "star"), (82, "d"), (103, "g")]),
    (842, [(39, "g"), (60, "g"), (82, "t"), (103, "g")]),
    (1042, [(39, "g"), (60, "g"), (82, "star"), (103, "d")]),
    (1068, [(39, "g"), (60, "g"), (82, "g"), (103, "t")]),
]
for cy, items in ICON_ROWS:
    for cx, kind in items:
        shapes.append(icon(kind, cx, cy))


# gradient backgrounds (soft grey corner shading of the boxes)
def grad_svg(w, h, ex, ey, r):
    svg = (f'<svg xmlns="http://www.w3.org/2000/svg" width="{w}" height="{h}" viewBox="0 0 {w} {h}">'
           f'<defs><linearGradient id="g" gradientUnits="userSpaceOnUse" x1="0" y1="0" x2="{ex}" y2="{ey}">'
           f'<stop offset="0" stop-color="#c4c4c4" stop-opacity="1"/>'
           f'<stop offset="0.3" stop-color="#c4c4c4" stop-opacity="0.6"/>'
           f'<stop offset="0.6" stop-color="#c4c4c4" stop-opacity="0.22"/>'
           f'<stop offset="1" stop-color="#c4c4c4" stop-opacity="0"/></linearGradient></defs>'
           f'<rect x="0" y="0" width="{w}" height="{h}" rx="{r}" ry="{r}" fill="url(#g)"/></svg>')
    return "data:image/svg+xml;base64," + base64.b64encode(svg.encode()).decode()


images = []
for (gx, gy, gw, gh, ex, ey) in [(9, 194, 380, 243, 150, 170), (6, 453, 360, 400, 175, 200)]:
    images.append(dict(source=grad_svg(gw, gh, ex, ey, 17), xref="paper", yref="paper",
                       x=px(gx), y=py(gy), sizex=gw / W, sizey=gh / H, xanchor="left",
                       yanchor="top", sizing="stretch", layer="below"))

# texts
ann = []


def text(t, x, y, size=17, xanchor="left", family=HFONT, color="#111111", yanchor="middle"):
    ann.append(dict(text=t, x=px(x), y=py(y), xref="paper", yref="paper", xanchor=xanchor,
                    yanchor=yanchor, showarrow=False, font=dict(family=family, size=size, color=color)))


text("Operator", 52, 25)
text("Semantic symbol preceded by :", 21, 58)
text("semantic symbol", 52, 84)
text("operator", 52, 112)
text("G<sup>★+</sup>", 293, 160, size=20, yanchor="bottom")
text("G<sup>★-</sup>", 654, 160, size=20, yanchor="bottom")
text("Group that understood the operator", 306, 169, xanchor="center")
text("Group that did not understand the operator", 694, 169, xanchor="center")
text("Length-2", 20, 216, size=18.5)
text("sequences", 16, 240, size=18.5)
text("Length-4", 20, 480, size=18.5)
text("sequences", 16, 503, size=18.5)
text("<b>a</b>", 22, 544, size=20, family="Liberation Sans, Arial", color="#333333")
text("<b>b</b>", 23, 746, size=20, family="Liberation Sans, Arial", color="#333333")
text("<b>c</b>", 23, 961, size=20, family="Liberation Sans, Arial", color="#333333")

fig.update_layout(
    width=W, height=H, margin=dict(l=0, r=0, t=0, b=0, pad=0),
    paper_bgcolor="white", plot_bgcolor="rgba(0,0,0,0)",
    font=dict(family="Liberation Sans, Arial", color="#111111"),
    showlegend=False, shapes=shapes, annotations=ann, images=images,
    **layout_axes,
)

fig.write_html("out.html", config={"displayModeBar": False},
               post_script="document.body.style.margin='0px';document.body.style.overflow='hidden';")
